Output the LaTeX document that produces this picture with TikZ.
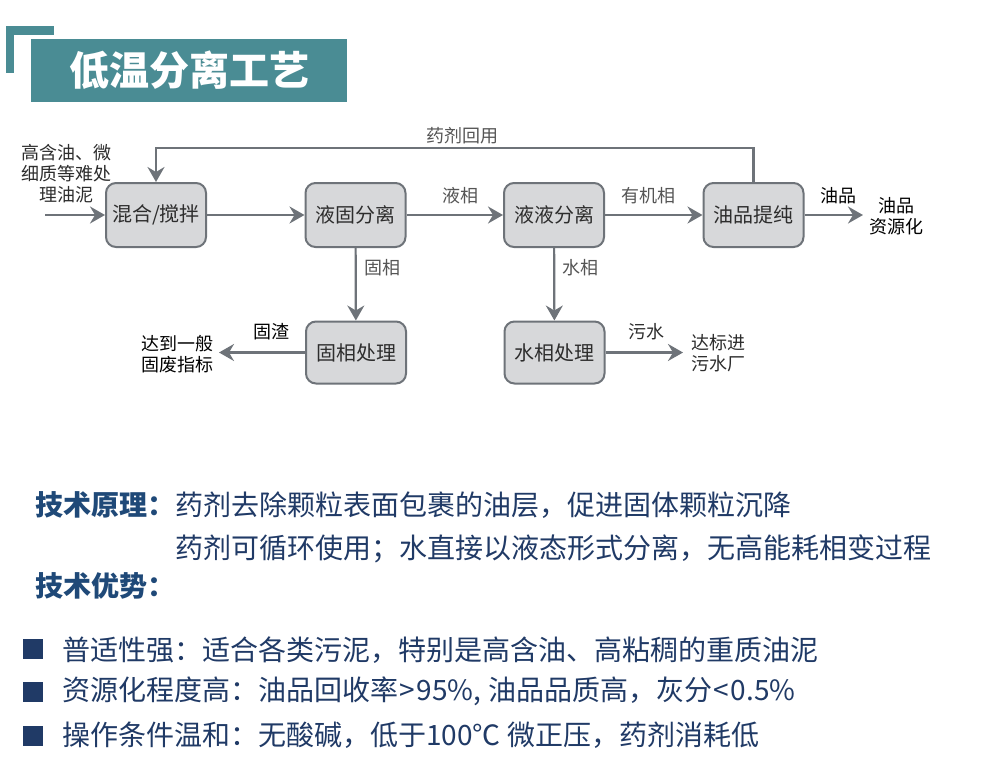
\documentclass[tikz,border=0pt]{standalone}
\usepackage{fontspec}
\setmainfont{Noto Sans CJK SC}
\usetikzlibrary{arrows.meta}
\definecolor{ttl}{RGB}{74,140,148}
\definecolor{bdr}{RGB}{110,115,121}
\definecolor{bfill}{RGB}{215,216,218}
\definecolor{btxt}{RGB}{45,45,45}
\definecolor{ltxt}{RGB}{85,85,85}
\definecolor{hblue}{RGB}{31,73,120}
\definecolor{tblue}{RGB}{32,58,102}
\begin{document}
\begin{tikzpicture}[x=1pt,y=-1pt,
  procbox/.style={draw=bdr, fill=bfill, line width=2pt, rounded corners=10pt,
    minimum width=100pt, minimum height=64pt, inner sep=0pt,
    font=\fontsize{20}{24}\selectfont, text=btxt},
  arr/.style={draw=bdr, line width=2.2pt, -{Stealth[length=15pt,width=17pt,inset=5pt]}},
  lbl/.style={font=\fontsize{18}{21.5}\selectfont, text=ltxt, inner sep=0pt, align=center},
  dlbl/.style={font=\fontsize{18}{21}\selectfont, text=black, inner sep=0pt, align=center},
  head/.style={font=\fontsize{28}{32}\selectfont\bfseries, text=hblue, anchor=west, inner sep=0pt},
  body/.style={font=\fontsize{28}{32}\selectfont, text=tblue, anchor=west, inner sep=0pt},
  bul/.style={fill=tblue, minimum width=20pt, minimum height=20pt, inner sep=0pt}
]
\useasboundingbox (0,0) rectangle (990,779);
\fill[white] (0,0) rectangle (990,779);

% title
\fill[ttl] (6,26) rectangle (54,35);
\fill[ttl] (6,26) rectangle (14,73);
\fill[ttl] (31,39) rectangle (347,102);
\node[font=\fontsize{40}{44}\selectfont\bfseries, text=white, inner sep=0pt] (title) at (189,70) {低温分离工艺};

% process boxes
\node[procbox] (mix) at (156,215) {混合/搅拌};
\node[procbox] (sl) at (355.5,215) {液固分离};
\node[procbox] (ll) at (554,215) {液液分离};
\node[procbox] (oil) at (753.5,215) {油品提纯};
\node[procbox, minimum height=62pt] (sp) at (356,352.5) {固相处理};
\node[procbox, minimum height=62pt] (wp) at (554.5,352.5) {水相处理};

% free ends
\coordinate (in) at (45,215);
\coordinate (oo) at (863,215);
\coordinate (so) at (219,352.5);
\coordinate (wo) at (683,352.5);

% connectors
\draw[arr] (in) -- (mix);
\draw[arr] (mix) -- (sl);
\draw[arr] (sl) -- (ll);
\draw[arr] (ll) -- (oil);
\draw[arr] (oil) -- (oo);
\draw[arr] (oil.north) -- ++(0,-34) -| (mix.north);
\draw[arr] (sl) -- (sp);
\draw[arr] (ll) -- (wp);
\draw[arr] (sp) -- (so);
\draw[arr] (wp) -- (wo);

% labels
\node[dlbl, text=btxt] (intxt) at (66,173.5) {高含油、微\\细质等难处\\理油泥};
\node[lbl] (recyc) at (462,136) {药剂回用};
\node[lbl] (liq) at (460,196) {液相};
\node[lbl] (org) at (648,196) {有机相};
\node[dlbl] (oilp) at (838,195.5) {油品};
\node[dlbl] (oilr) at (896,216.5) {油品\\资源化};
\node[lbl] (sol) at (382.5,268) {固相};
\node[lbl] (wat) at (580.5,268) {水相};
\node[dlbl] (slag) at (271,331.5) {固渣};
\node[dlbl] (solw) at (177.5,354) {达到一般\\固废指标};
\node[lbl, text=btxt] (sew) at (646,332) {污水};
\node[lbl, text=btxt] (plant) at (718,353) {达标进\\污水厂};

% bottom text
\node[head] (h1) at (35,505) {技术原理：};
\node[body] (p1) at (175,505) {药剂去除颗粒表面包裹的油层，促进固体颗粒沉降};
\node[body] (p2) at (175,548.5) {药剂可循环使用；水直接以液态形式分离，无高能耗相变过程};
\node[head] (h2) at (35,586) {技术优势：};

\node[bul] (b1) at (33,648.5) {};
\node[bul] (b2) at (33,692) {};
\node[bul] (b3) at (33,736) {};
\node[body] (t1) at (62,650) {普适性强：适合各类污泥，特别是高含油、高粘稠的重质油泥};
\node[body] (t2) at (62,691) {资源化程度高：油品回收率\hspace{1.5pt}>\hspace{1.5pt}95\%,\hspace{7pt}油品品质高，灰分\hspace{1.5pt}<\hspace{1.5pt}0.5\%};
\node[body] (t3) at (62,735) {操作条件温和：无酸碱，低于100℃\hspace{7pt}微正压，药剂消耗低};
\end{tikzpicture}
\end{document}
